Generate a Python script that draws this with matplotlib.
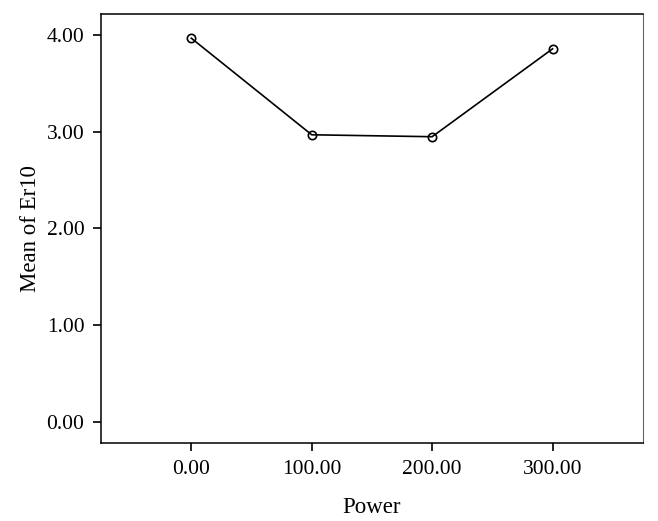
import matplotlib.pyplot as plt

plt.rcParams['font.family'] = ['Liberation Serif', 'DejaVu Serif']

power = [0, 100, 200, 300]
mean_er10 = [3.97, 2.97, 2.95, 3.86]
xticks = [0, 100, 200, 300]
yticks = [0, 1, 2, 3, 4]

fig = plt.figure(figsize=(6.58, 5.21), dpi=100)
ax = fig.add_axes([0.1535, 0.15, 0.8235, 0.823])

ax.plot(power, mean_er10, color="black", linewidth=1.2, marker="o",
        markersize=6, markerfacecolor="none", markeredgecolor="black",
        markeredgewidth=1.2)

ax.set_xlim(-75, 375)
ax.set_ylim(-0.22, 4.22)
ax.set_xticks(xticks)
ax.set_xticklabels(["%.2f" % v for v in xticks])
ax.set_yticks(yticks)
ax.set_yticklabels(["%.2f" % v for v in yticks])
ax.tick_params(direction="out", length=6, width=1.2, labelsize=15.5, pad=6)

for s in ax.spines.values():
    s.set_linewidth(1.1)
ax.spines["right"].set_color("#666666")
ax.spines["right"].set_linewidth(0.8)

ax.set_xlabel("Power", fontsize=16.5, labelpad=13)
ax.set_ylabel("Mean of Er10", fontsize=16.5, labelpad=4)

fig.savefig("out.png", dpi=100)
